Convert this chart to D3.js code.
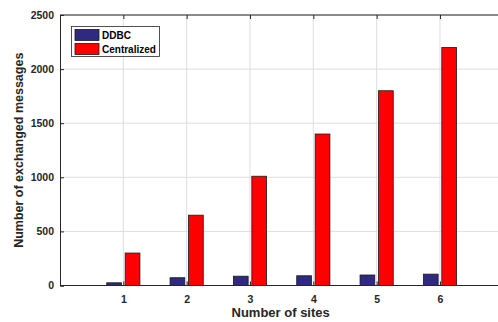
<!DOCTYPE html>
<html><head><meta charset="utf-8">
<script src="https://cdn.jsdelivr.net/npm/d3@7"></script>
<style>body{margin:0;background:#fff}svg{display:block}text{font-family:"Liberation Sans",Arial,sans-serif;font-weight:bold}</style>
</head><body><svg id="c" width="498" height="322"></svg>
<script>
const sites = [1, 2, 3, 4, 5, 6];
const seriesNames = ["DDBC", "Centralized"];
const ddbc = [25, 72, 86, 90, 97, 105];
const centralized = [300, 650, 1010, 1400, 1800, 2200];
const yTicks = [0, 500, 1000, 1500, 2000, 2500];
const colors = ["#2f2a7f", "#ff0000"];

const svg = d3.select("#c");
const L = 60, R = 503.3, T = 15, B = 285.5;
const x = d3.scaleLinear().domain([0, 7]).range([L, R]);
const y = d3.scaleLinear().domain([0, 2500]).range([B, T]);
const step = x(1) - x(0);
const sub = d3.scaleBand().domain(seriesNames).range([-0.262 * step, 0.262 * step]).paddingInner(0.2);
const axisCol = "#262626";

// grid
const g = svg.append("g");
g.selectAll(".gx").data(sites).join("line")
  .attr("x1", d => x(d)).attr("x2", d => x(d)).attr("y1", T).attr("y2", B)
  .attr("stroke", "#dedede").attr("stroke-width", 1);
g.selectAll(".gy").data(yTicks.slice(1)).join("line")
  .attr("x1", L).attr("x2", 498).attr("y1", d => y(d)).attr("y2", d => y(d))
  .attr("stroke", "#dedede").attr("stroke-width", 1);

// bars
const data = sites.map((s, i) => ({site: s, vals: [ddbc[i], centralized[i]]}));
data.forEach(d => {
  d.vals.forEach((v, j) => {
    svg.append("rect")
      .attr("x", x(d.site) + sub(seriesNames[j]))
      .attr("y", y(v))
      .attr("width", sub.bandwidth())
      .attr("height", y(0) - y(v))
      .attr("fill", colors[j])
      .attr("stroke", "#1a1a1a").attr("stroke-width", 0.8);
  });
});

// axes
const xa = svg.append("g").attr("transform", `translate(0,${B})`)
  .call(d3.axisBottom(x).tickValues(sites).tickSize(-4).tickPadding(10).tickFormat(d3.format("d")));
const ya = svg.append("g").attr("transform", `translate(${L},0)`)
  .call(d3.axisLeft(y).tickValues(yTicks).tickSize(-4).tickPadding(6).tickFormat(d3.format("d")));
const xt = svg.append("g").attr("transform", `translate(0,${T})`)
  .call(d3.axisTop(x).tickValues(sites).tickSize(-4).tickFormat(""));
[xa, ya, xt].forEach(a => {
  a.select(".domain").attr("stroke", axisCol).attr("stroke-width", 1);
  a.selectAll(".tick line").attr("stroke", axisCol);
  a.selectAll("text").attr("fill", axisCol).style("font-size", "10.5px").style("font-weight", "bold")
    .style("font-family", '"Liberation Sans",Arial,sans-serif');
});
xa.select(".domain").attr("d", `M${L},0H498`);
xt.select(".domain").attr("d", `M${L},0H498`);

// axis labels
svg.append("text").attr("x", (L + R) / 2 - 1).attr("y", 317).attr("text-anchor", "middle")
  .attr("fill", axisCol).style("font-size", "13px").text("Number of sites");
svg.append("text").attr("transform", `translate(23,${(T + B) / 2}) rotate(-90)`).attr("text-anchor", "middle")
  .attr("fill", axisCol).style("font-size", "12.5px").text("Number of exchanged messages");

// legend
const lg = svg.append("g");
lg.append("rect").attr("x", 71.5).attr("y", 26.5).attr("width", 88).attr("height", 30)
  .attr("fill", "#fff").attr("stroke", axisCol).attr("stroke-width", 0.8);
seriesNames.forEach((n, i) => {
  lg.append("rect").attr("x", 75).attr("y", 29.5 + i * 14).attr("width", 24).attr("height", 11)
    .attr("fill", colors[i]).attr("stroke", "#1a1a1a").attr("stroke-width", 0.8);
  lg.append("text").attr("x", 102).attr("y", 39 + i * 14).attr("fill", "#000")
    .style("font-size", "10px").text(n);
});
</script></body></html>
